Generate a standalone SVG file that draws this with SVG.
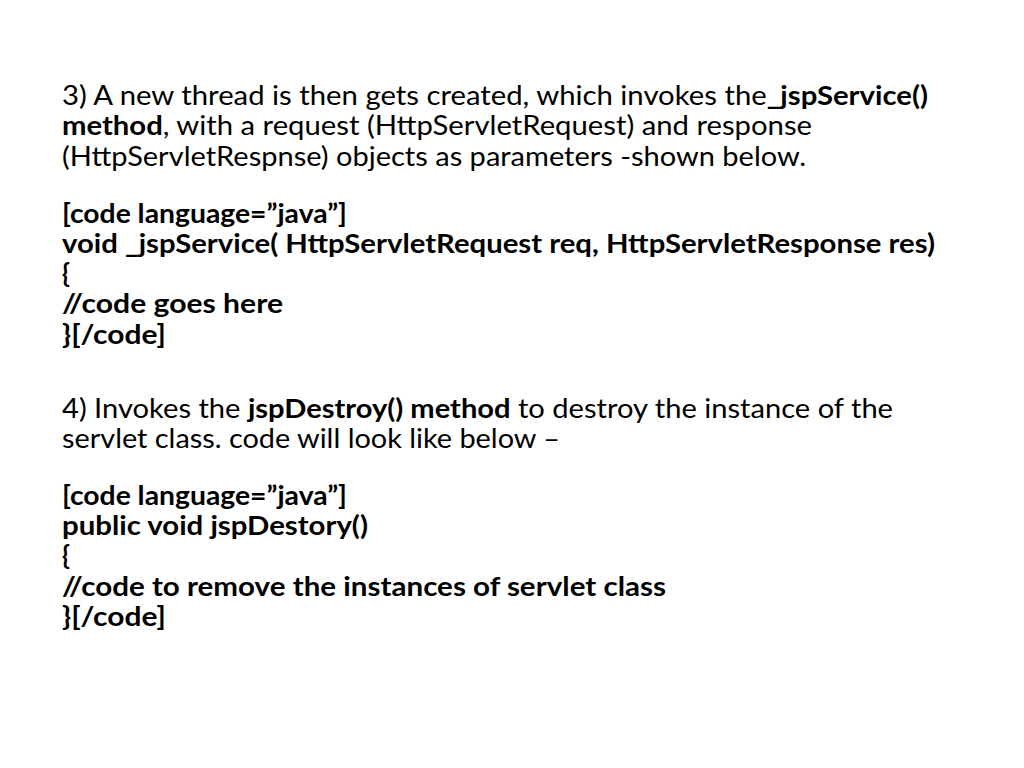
<svg xmlns="http://www.w3.org/2000/svg" width="1024" height="768" viewBox="0 0 1024 768">
<style>
text{font-family:"Lato","Open Sans","Liberation Sans",sans-serif;font-size:26px;fill:#000}
.b{font-weight:bold}
</style>
<rect width="1024" height="768" fill="#fff"/>
<g id="text">
<text x="62" y="105" textLength="866" lengthAdjust="spacingAndGlyphs">3) A new thread is then gets created, which invokes the<tspan class="b">_jspService()</tspan></text>
<text x="62" y="135" textLength="750" lengthAdjust="spacingAndGlyphs"><tspan class="b">method</tspan>, with a request (HttpServletRequest) and response</text>
<text x="62" y="166" textLength="744" lengthAdjust="spacingAndGlyphs">(HttpServletRespnse) objects as parameters -shown below.</text>
<text class="b" x="62" y="223" textLength="285" lengthAdjust="spacingAndGlyphs">[code language=”java”]</text>
<text class="b" x="62" y="253" textLength="873" lengthAdjust="spacingAndGlyphs">void _jspService( HttpServletRequest req, HttpServletResponse res)</text>
<text class="b" x="62" y="283">{</text>
<text class="b" x="62" y="313" textLength="221" lengthAdjust="spacingAndGlyphs">//code goes here</text>
<text class="b" x="62" y="344" textLength="104" lengthAdjust="spacingAndGlyphs">}[/code]</text>
<text x="62" y="418" textLength="831" lengthAdjust="spacingAndGlyphs">4) Invokes the <tspan class="b">jspDestroy() method</tspan> to destroy the instance of the</text>
<text x="62" y="448" textLength="498" lengthAdjust="spacingAndGlyphs">servlet class. code will look like below –</text>
<text class="b" x="62" y="505" textLength="285" lengthAdjust="spacingAndGlyphs">[code language=”java”]</text>
<text class="b" x="62" y="535" textLength="306" lengthAdjust="spacingAndGlyphs">public void jspDestory()</text>
<text class="b" x="62" y="565">{</text>
<text class="b" x="62" y="596" textLength="604" lengthAdjust="spacingAndGlyphs">//code to remove the instances of servlet class</text>
<text class="b" x="62" y="626" textLength="104" lengthAdjust="spacingAndGlyphs">}[/code]</text>
</g>
</svg>
